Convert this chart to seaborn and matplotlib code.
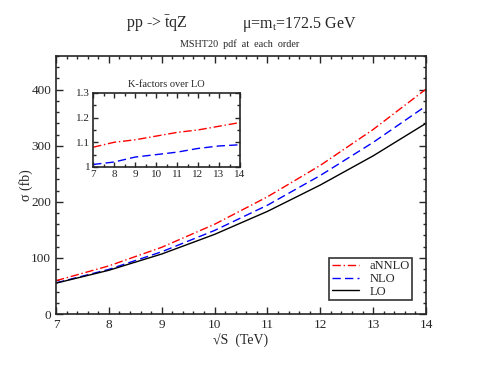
import matplotlib
matplotlib.use("Agg")
import matplotlib.pyplot as plt
import numpy as np
import pandas as pd
import seaborn as sns
from matplotlib.ticker import MultipleLocator

# collider energy (TeV)
sqrt_s = [7, 8, 9, 10, 11, 12, 13, 14]
# cross sections (fb)
lo = [55, 78, 107, 142, 183, 230, 282, 340]
nlo = [55.5, 79.6, 111, 149, 194, 247, 306, 371]
annlo = [59.4, 85.8, 119, 160, 209, 265, 329, 401]
# K-factors over LO
k_nlo = [1.01, 1.02, 1.04, 1.05, 1.06, 1.075, 1.085, 1.09]
k_annlo = [1.08, 1.10, 1.11, 1.125, 1.14, 1.15, 1.165, 1.18]

sns.set_style("ticks")
plt.rcParams['font.family'] = ['Liberation Serif', 'DejaVu Serif']
plt.rcParams['mathtext.fontset'] = 'custom'
plt.rcParams['mathtext.rm'] = 'Liberation Serif'
plt.rcParams['mathtext.it'] = 'Liberation Serif:italic'

df = pd.DataFrame({'s': sqrt_s, 'LO': lo, 'NLO': nlo, 'aNNLO': annlo,
                   'k_nlo': k_nlo, 'k_annlo': k_annlo})

fig = plt.figure(figsize=(4.8, 3.71), dpi=100)
ax = fig.add_axes([0.1167, 0.1536, 0.7708, 0.6954])

sns.lineplot(data=df, x='s', y='aNNLO', ax=ax, color='red', lw=1.0,
             label='aNNLO', linestyle=(0, (6, 2, 1, 2)))
sns.lineplot(data=df, x='s', y='NLO', ax=ax, color='blue', lw=1.0,
             label='NLO', linestyle=(0, (6, 3)))
sns.lineplot(data=df, x='s', y='LO', ax=ax, color='black', lw=1.0, label='LO')

ax.set_xlim(7, 14)
ax.set_ylim(0, 460)
ax.xaxis.set_major_locator(MultipleLocator(1))
ax.xaxis.set_minor_locator(MultipleLocator(0.2))
ax.yaxis.set_major_locator(MultipleLocator(100))
ax.yaxis.set_minor_locator(MultipleLocator(20))
ax.tick_params(which='both', direction='in', top=True, right=True, labelsize=9.5)
ax.tick_params(which='major', length=5, width=1)
ax.tick_params(which='minor', length=2.5, width=1)
for sp in ax.spines.values():
    sp.set_linewidth(1.2)
ax.set_xlabel('√S  (TeV)', fontsize=10, labelpad=2)
ax.set_ylabel('σ (fb)', fontsize=10, labelpad=-1)

leg = ax.legend(loc='lower right', bbox_to_anchor=(0.962, 0.054), fontsize=9,
                frameon=True, fancybox=False, edgecolor='black',
                handlelength=2.2, borderpad=0.2, labelspacing=0.05,
                handletextpad=0.8, borderaxespad=0)
leg.get_frame().set_linewidth(1.2)

# inset with K-factors
ins = fig.add_axes([0.194, 0.55, 0.306, 0.1995])
sns.lineplot(data=df, x='s', y='k_annlo', ax=ins, color='red', lw=1.0,
             linestyle=(0, (6, 2, 1, 2)))
sns.lineplot(data=df, x='s', y='k_nlo', ax=ins, color='blue', lw=1.0,
             linestyle=(0, (6, 3)))
ins.set_xlim(7, 14)
ins.set_ylim(1.0, 1.3)
ins.xaxis.set_major_locator(MultipleLocator(1))
ins.xaxis.set_minor_locator(MultipleLocator(0.5))
ins.yaxis.set_minor_locator(MultipleLocator(0.05))
ins.set_yticks([1.0, 1.1, 1.2, 1.3])
ins.set_yticklabels(['1', '1.1', '1.2', '1.3'])
ins.tick_params(which='both', direction='in', top=True, right=True, labelsize=8, pad=2)
ins.tick_params(which='major', length=3.5, width=1)
ins.tick_params(which='minor', length=2, width=1)
for sp in ins.spines.values():
    sp.set_linewidth(1.2)
ins.set_xlabel('')
ins.set_ylabel('')
ins.set_title('K-factors over LO', fontsize=7.5, pad=4)

fig.text(0.262, 0.925, r'pp -> $\mathrm{\bar{t}}$qZ', fontsize=11.5, ha='left', va='baseline')
fig.text(0.505, 0.925, r'μ=m$_\mathrm{t}$=172.5 GeV', fontsize=11.5, ha='left', va='baseline')
fig.text(0.375, 0.873, 'MSHT20  pdf  at  each  order', fontsize=7.3, ha='left', va='baseline')

fig.savefig('out.png', dpi=100)
